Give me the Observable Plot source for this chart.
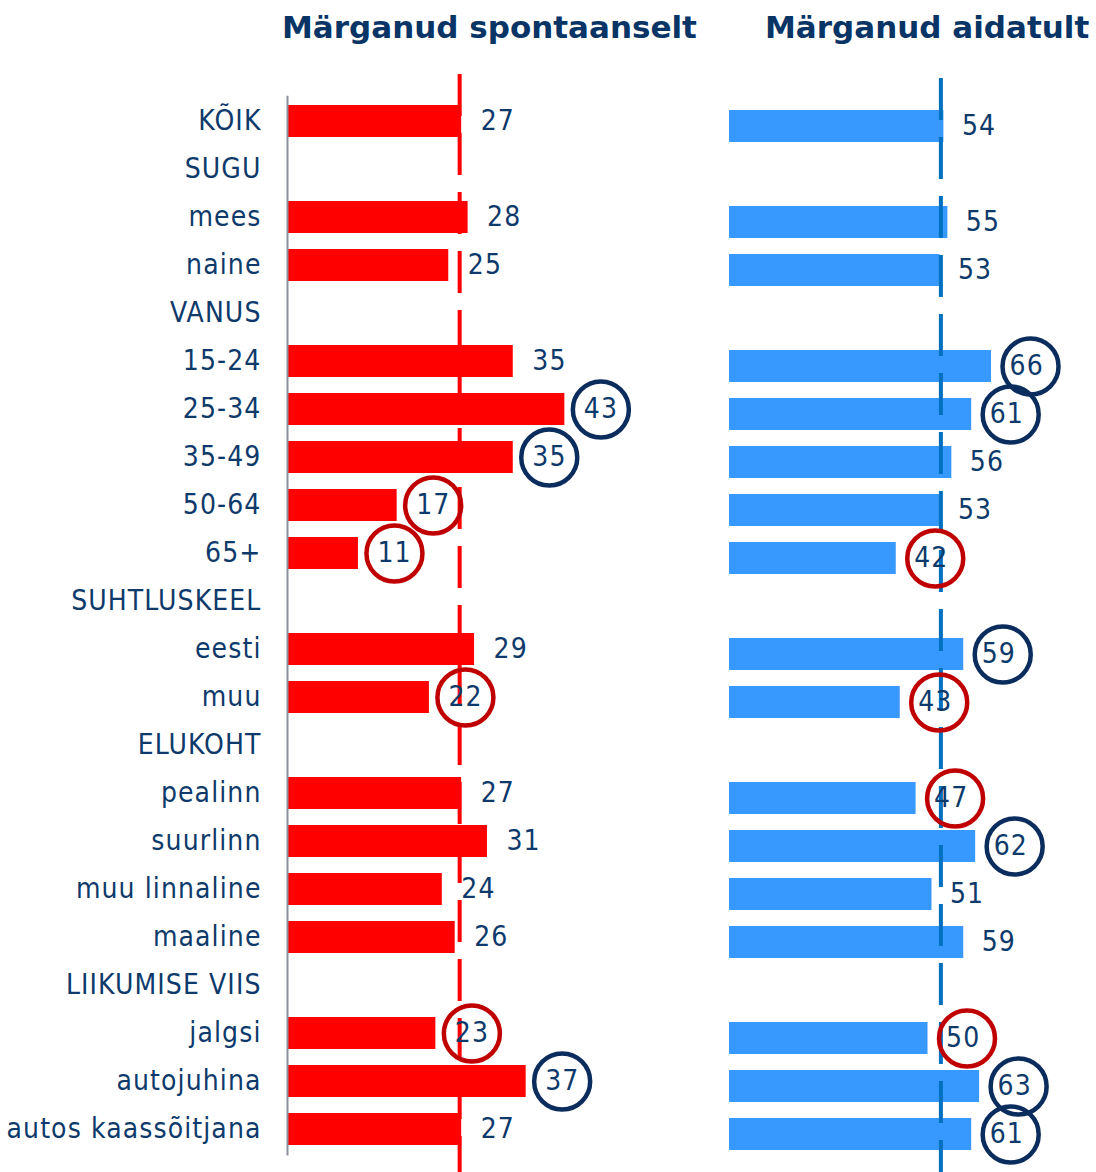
<!DOCTYPE html>
<html><head><meta charset="utf-8">
<script src="https://cdn.jsdelivr.net/npm/d3@7"></script>
<script src="https://cdn.jsdelivr.net/npm/@observablehq/plot@0.6"></script>
<style>
body{margin:0;background:#fff;}
#wrap{position:relative;width:1096px;height:1172px;overflow:hidden;background:#fff;}
.title{position:absolute;top:7px;font-family:"DejaVu Sans",Verdana,sans-serif;font-weight:bold;font-size:31px;line-height:40px;color:#083466;white-space:nowrap;}
#left{position:absolute;left:0;top:0;}
#right{position:absolute;left:720px;top:0;}
</style></head><body>
<div id="wrap">
<div id="left"></div><div id="right"></div>
<div class="title" style="left:282px">Märganud spontaanselt</div>
<div class="title" style="left:765px">Märganud aidatult</div>
</div>
<script>
const categories = ["KÕIK","SUGU","mees","naine","VANUS","15-24","25-34","35-49","50-64","65+","SUHTLUSKEEL","eesti","muu","ELUKOHT","pealinn","suurlinn","muu linnaline","maaline","LIIKUMISE VIIS","jalgsi","autojuhina","autos kaassõitjana"];
const spontaneous = [27,null,28,25,null,35,43,35,17,11,null,29,22,null,27,31,24,26,null,23,37,27];
const aided       = [54,null,55,53,null,66,61,56,53,42,null,59,43,null,47,62,51,59,null,50,63,61];
// significance vs total: "high" = navy circle, "low" = red circle
const spontSig = [null,null,null,null,null,null,"high","high","low","low",null,null,"low",null,null,null,null,null,null,"low","high",null];
const aidedSig = [null,null,null,null,null,"high","high",null,null,"low",null,"high","low",null,"low","high",null,null,null,"low","high","high"];
const totalSpont = 27, totalAided = 54;

const rows = categories.map((c,i)=>({cat:c, s:spontaneous[i], a:aided[i], ss:spontSig[i], as:aidedSig[i]}));
const sRows = rows.filter(d=>d.s!=null);
const aRows = rows.filter(d=>d.a!=null);

const txt = "#0e3a6b", navy = "#0b2d5e", red = "#c00000";
const font = {fontFamily:"'DejaVu Sans Condensed','DejaVu Sans',sans-serif", fontSize:"28px", letterSpacing:"1.1px", color:txt, background:"transparent", overflow:"visible"};

const left = Plot.plot({
  width:720, height:1172, marginTop:87.8, marginBottom:9.6, marginLeft:287, marginRight:0,
  x:{domain:[0,67.13], axis:null},
  y:{domain:categories, padding:0.34, axis:null},
  style:font,
  marks:[
    Plot.axisY({tickSize:0, tickPadding:26, label:null, fontSize:28}),
    Plot.barX(sRows,{x:"s", y:"cat", fill:"#ff0000"}),
    Plot.ruleX([0],{stroke:"#8c909c", strokeWidth:2, insetTop:8, insetBottom:7}),
    Plot.ruleX([totalSpont],{stroke:"#ff0000", strokeWidth:4, strokeDasharray:"42,17", dx:-2, insetTop:-13.8, insetBottom:-12}),
    Plot.text(sRows,{x:"s", y:"cat", text:"s", dx:19, textAnchor:"start", fill:txt, fontSize:28}),
    Plot.dot(sRows.filter(d=>d.ss==="high"),{x:"s", y:"cat", r:28, dx:36, stroke:navy, strokeWidth:4.5, fill:"none"}),
    Plot.dot(sRows.filter(d=>d.ss==="low"),{x:"s", y:"cat", r:28, dx:36, stroke:red, strokeWidth:4.5, fill:"none"})
  ]
});
document.getElementById("left").appendChild(left);

const right = Plot.plot({
  width:376, height:1172, marginTop:92.8, marginBottom:4.6, marginLeft:9, marginRight:0,
  x:{domain:[0,92.44], axis:null},
  y:{domain:categories, padding:0.34, axis:null},
  style:font,
  marks:[
    Plot.barX(aRows,{x:"a", y:"cat", fill:"#3799fd"}),
    Plot.ruleX([totalAided],{stroke:"#0070c0", strokeWidth:4, strokeDasharray:"42,17", dx:-3, insetTop:-14.8, insetBottom:-12}),
    Plot.text(aRows,{x:"a", y:"cat", text:"a", dx:18, textAnchor:"start", fill:txt, fontSize:28}),
    Plot.dot(aRows.filter(d=>d.as==="high"),{x:"a", y:"cat", r:28, dx:39, stroke:navy, strokeWidth:4.5, fill:"none"}),
    Plot.dot(aRows.filter(d=>d.as==="low"),{x:"a", y:"cat", r:28, dx:39, stroke:red, strokeWidth:4.5, fill:"none"})
  ]
});
document.getElementById("right").appendChild(right);
</script>
</body></html>
